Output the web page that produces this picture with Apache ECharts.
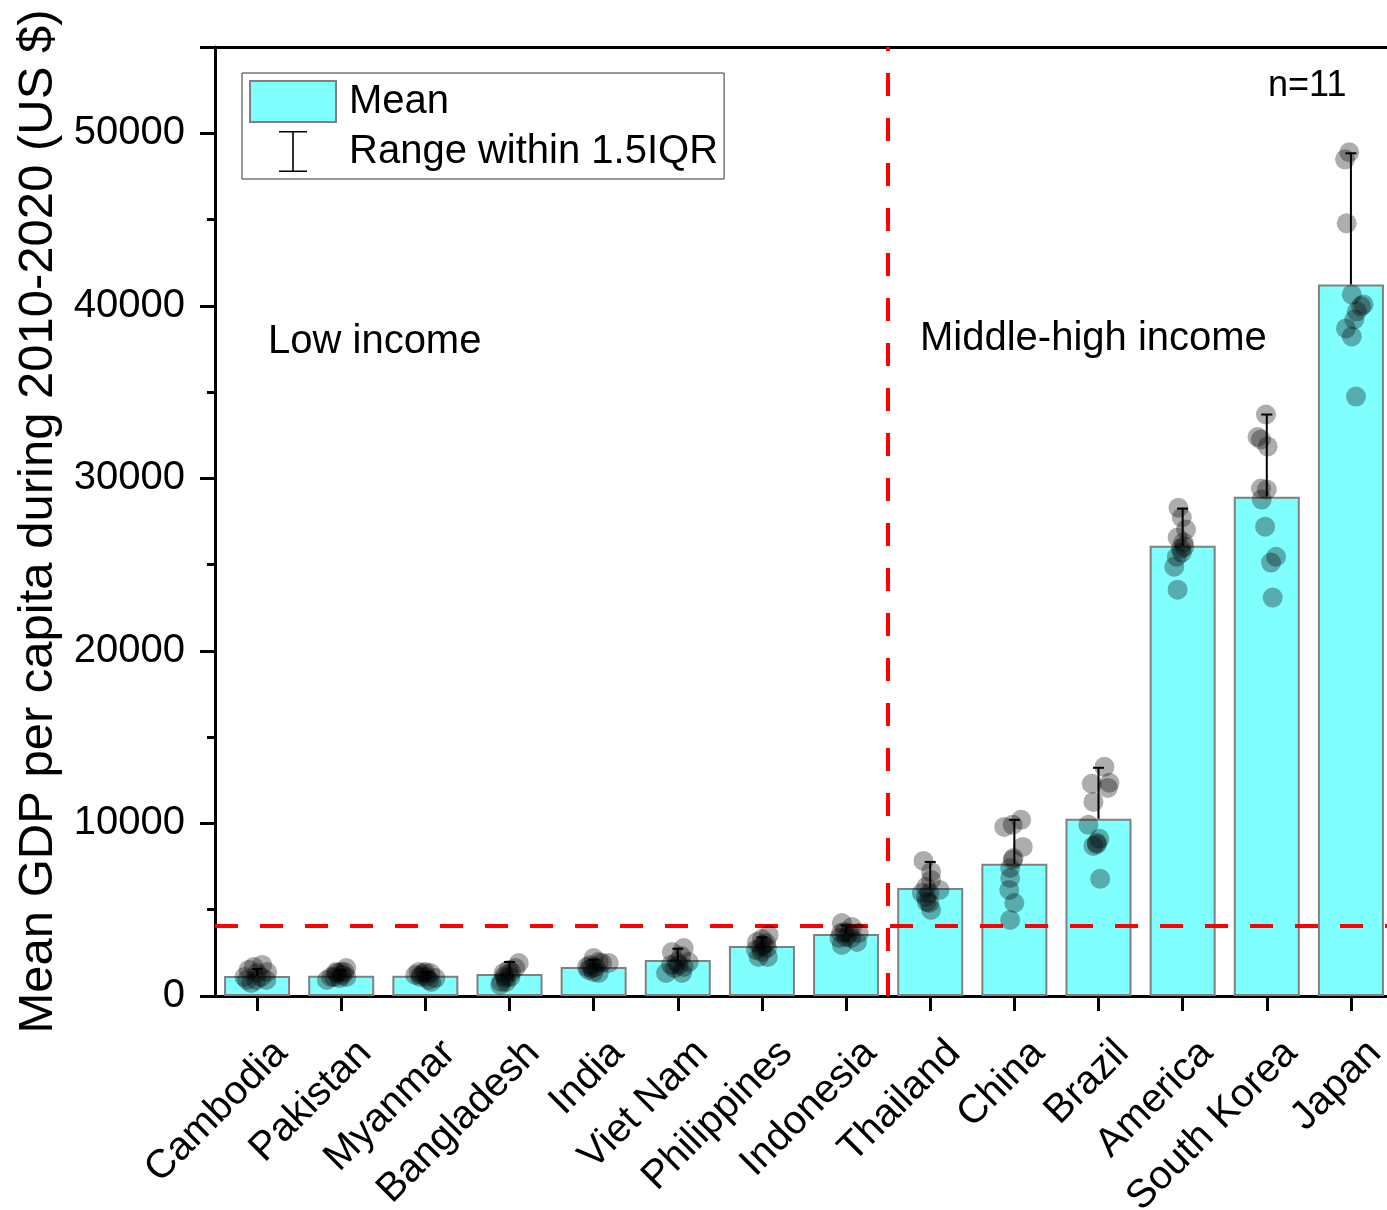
<!DOCTYPE html>
<html>
<head>
<meta charset="utf-8">
<title>Mean GDP per capita 2010-2020</title>
<script src="https://cdn.jsdelivr.net/npm/echarts@6/dist/echarts.min.js"></script>
<style>
  html, body { margin: 0; padding: 0; background: #fff; }
  #chart { width: 1387px; height: 1210px; }
</style>
</head>
<body>
<div id="chart"></div>
<script>
// Countries, ordered by mean GDP per capita
const categories = ['Cambodia', 'Pakistan', 'Myanmar', 'Bangladesh', 'India', 'Viet Nam',
  'Philippines', 'Indonesia', 'Thailand', 'China', 'Brazil', 'America', 'South Korea', 'Japan'];

// Mean GDP per capita over 2010-2020 (US $)
const meanGdp = [1160, 1180, 1180, 1270, 1680, 2090, 2900, 3600, 6260, 7660, 10270, 26100, 28940, 41240];

// Upper end of the range within 1.5 IQR (US $)
const upperRange = [1560, 1480, 1380, 1970, 2100, 2740, 3400, 4100, 7770, 10210, 13225, 28250, 33700, 48840];

// Yearly GDP per capita, 2010-2020 (11 years per country, US $)
const yearlyGdp = [
  [1800, 1680, 1510, 1390, 1330, 1100, 930, 930, 750, 1100, 930],
  [1620, 1390, 1330, 1220, 930, 1100, 1040, 1100, 1390, 1390, 1100],
  [1390, 1390, 1330, 1220, 1220, 1100, 1040, 810, 1100, 930, 1330],
  [1910, 1620, 1510, 1330, 1040, 810, 1100, 640, 810, 1390, 1160],
  [2200, 1910, 1970, 1800, 1680, 1510, 1390, 1330, 1910, 1620, 1680],
  [2780, 2550, 2320, 1970, 1970, 1800, 1680, 1330, 1330, 1620, 1800],
  [3540, 3300, 3130, 3070, 2840, 2780, 2670, 2550, 2260, 2260, 2960],
  [4230, 4000, 3710, 3650, 3650, 3650, 3420, 3130, 2960, 3360, 3360],
  [7830, 7190, 6730, 6320, 6150, 5970, 5970, 5740, 5450, 5390, 4990],
  [10210, 9800, 9920, 8640, 8000, 7420, 6840, 6150, 5390, 4410, 7890],
  [13280, 12300, 12360, 12060, 11250, 9920, 9110, 8880, 8700, 6790, 8800],
  [28300, 27730, 27030, 26570, 26280, 25930, 25700, 25460, 24880, 23550, 26040],
  [33700, 32250, 31850, 29410, 29350, 28770, 27200, 25460, 25120, 23090, 32400],
  [48900, 48490, 44780, 40660, 39970, 39680, 39210, 38690, 38220, 34740, 40080]
];

// Horizontal jitter of each yearly point, in category widths
const yearJitter = [
  [0.06, -0.04, -0.10, 0.12, 0, -0.15, 0.11, -0.01, -0.07, 0.05, -0.12],
  [0.06, 0, -0.05, 0.01, -0.17, -0.08, -0.02, 0.06, -0.06, 0.04, -0.12],
  [-0.08, 0, 0.06, -0.05, -0.12, 0.01, 0.12, 0.07, -0.06, 0.04, -0.02],
  [0.11, 0.07, -0.01, -0.07, -0.05, -0.10, 0.01, -0.11, -0.04, 0.02, -0.06],
  [0, 0.18, 0.06, -0.04, 0.02, -0.06, 0, 0.06, 0.10, -0.02, -0.08],
  [0.07, -0.07, 0.04, 0.13, -0.01, -0.08, 0.07, -0.14, 0.05, -0.04, 0.01],
  [0.08, 0, -0.06, 0.05, -0.01, 0.06, -0.07, 0, -0.04, 0.07, 0.02],
  [-0.05, 0.07, -0.02, -0.06, 0.04, 0.15, 0, 0.13, -0.05, 0.06, -0.08],
  [-0.08, 0.01, 0.01, -0.05, 0.11, -0.10, -0.01, -0.05, -0.04, -0.01, 0.01],
  [0.08, -0.12, -0.02, 0.10, -0.01, -0.05, -0.05, -0.06, 0, -0.05, -0.02],
  [0.07, -0.08, 0.13, 0.11, -0.06, -0.12, 0.01, -0.02, -0.06, 0.02, -0.02],
  [-0.05, -0.01, 0.04, -0.06, 0.01, -0.02, -0.01, -0.07, -0.10, -0.06, 0.02],
  [-0.01, -0.07, 0.01, -0.07, 0, -0.06, -0.02, 0.11, 0.05, 0.07, -0.11],
  [-0.02, -0.07, -0.05, 0.01, 0.12, 0.07, 0.04, -0.06, 0.01, 0.06, 0.15]
];

// Income threshold (US $) and the first middle-high income country
const incomeThreshold = 4045;
const firstMiddleHigh = 'Thailand';

const yTickLabels = ['0', '10000', '20000', '30000', '40000', '50000'];

const FONT = '"Liberation Sans", Arial, Helvetica, sans-serif';

const pointData = [];
yearlyGdp.forEach((vals, i) => {
  vals.forEach((v, k) => pointData.push([i + yearJitter[i][k], v]));
});
const rangeData = categories.map((c, i) => [i, meanGdp[i], upperRange[i]]);
const dividerX = categories.indexOf(firstMiddleHigh) - 0.5;

// I-beam legend glyph, padded to the full legend item box
const iBeamIcon = 'path://M0 0 M86 41 M29 0 H57 V1.6 H43.8 V39.4 H57 V41 H29 V39.4 H42.2 V1.6 H29 Z';

const chart = echarts.init(document.getElementById('chart'), null, { renderer: 'canvas' });

chart.setOption({
  animation: false,
  backgroundColor: '#fff',
  textStyle: { fontFamily: FONT, color: '#000' },
  grid: {
    left: 215, top: 47, width: 1178, height: 949,
    containLabel: false,
    outerBoundsMode: 'none'
  },
  legend: {
    orient: 'vertical',
    left: 242,
    top: 73,
    selectedMode: false,
    itemWidth: 86,
    itemHeight: 41,
    itemGap: 8,
    padding: [7, 6, 7, 7],
    borderColor: '#333',
    borderWidth: 1,
    textStyle: { fontFamily: FONT, fontSize: 40, color: '#000', padding: [0, 0, 0, 8] },
    data: [
      { name: 'Mean', icon: 'rect' },
      { name: 'Range within 1.5IQR', icon: iBeamIcon, itemStyle: { color: '#000', borderWidth: 0 } }
    ]
  },
  xAxis: [
    {
      type: 'category',
      data: categories,
      position: 'bottom',
      boundaryGap: true,
      axisLine: { show: true, onZero: false, lineStyle: { color: '#000', width: 3 } },
      axisTick: { show: true, alignWithLabel: true, length: 15, lineStyle: { color: '#000', width: 3 } },
      axisLabel: {
        interval: 0,
        rotate: 45,
        fontSize: 40,
        fontFamily: FONT,
        color: '#000',
        margin: 17,
        align: 'right',
        verticalAlign: 'top',
        padding: [21, 7, 0, 0]
      },
      splitLine: { show: false }
    },
    {
      type: 'value',
      position: 'top',
      min: -0.5,
      max: categories.length - 0.5,
      axisLine: { show: true, onZero: false, lineStyle: { color: '#000', width: 3 } },
      axisTick: { show: false },
      axisLabel: { show: false },
      splitLine: { show: false }
    }
  ],
  yAxis: [
    {
      type: 'value',
      position: 'left',
      min: 0,
      max: 55000,
      interval: 10000,
      name: 'Mean GDP per capita during 2010-2020 (US $)',
      nameLocation: 'middle',
      nameGap: 150,
      nameTextStyle: { fontSize: 49, fontFamily: FONT, color: '#000' },
      axisLine: { show: true, onZero: false, lineStyle: { color: '#000', width: 3 } },
      axisTick: { show: true, length: 15, lineStyle: { color: '#000', width: 3 } },
      axisLabel: {
        fontSize: 40,
        fontFamily: FONT,
        color: '#000',
        margin: 30,
        formatter: v => (yTickLabels.indexOf(String(v)) >= 0 ? String(v) : '')
      },
      splitLine: { show: false }
    },
    {
      type: 'value',
      position: 'left',
      min: 0,
      max: 55000,
      interval: 5000,
      axisLine: { show: false, onZero: false },
      axisTick: { show: true, length: 8, lineStyle: { color: '#000', width: 3 } },
      axisLabel: { show: false },
      splitLine: { show: false }
    }
  ],
  series: [
    {
      name: 'Mean',
      type: 'bar',
      xAxisIndex: 0,
      yAxisIndex: 0,
      data: meanGdp,
      barWidth: 66,
      z: 2,
      itemStyle: { color: '#80FFFF', borderColor: '#808080', borderWidth: 2 }
    },
    {
      name: 'Range within 1.5IQR',
      type: 'custom',
      xAxisIndex: 1,
      yAxisIndex: 0,
      z: 4,
      data: rangeData,
      encode: { x: 0, y: [1, 2] },
      itemStyle: { color: '#000' },
      renderItem: function (params, api) {
        const x = api.value(0);
        const base = api.coord([x, api.value(1)]);
        const top = api.coord([x, api.value(2)]);
        const lineStyle = { stroke: '#000', lineWidth: 2 };
        return {
          type: 'group',
          children: [
            { type: 'line', shape: { x1: base[0], y1: base[1], x2: top[0], y2: top[1] }, style: lineStyle },
            { type: 'line', shape: { x1: top[0] - 5.5, y1: top[1], x2: top[0] + 5.5, y2: top[1] }, style: lineStyle }
          ]
        };
      },
      markLine: {
        silent: true,
        symbol: 'none',
        label: { show: false },
        lineStyle: { color: '#FF0000', width: 4, type: [23, 22] },
        data: [{ yAxis: incomeThreshold }, { xAxis: dividerX }]
      }
    },
    {
      name: 'Yearly GDP per capita',
      type: 'scatter',
      xAxisIndex: 1,
      yAxisIndex: 0,
      z: 5,
      data: pointData,
      symbol: 'circle',
      symbolSize: 20,
      itemStyle: { color: 'rgba(0,0,0,0.4)', borderWidth: 0 }
    }
  ],
  graphic: [
    { type: 'text', left: 268, top: 322, style: { text: 'Low income', font: '40px ' + FONT, fill: '#000' } },
    { type: 'text', left: 920, top: 319, style: { text: 'Middle-high income', font: '40px ' + FONT, fill: '#000' } },
    { type: 'text', left: 1268, top: 68, style: { text: 'n=11', font: '36px ' + FONT, fill: '#000' } }
  ]
});
</script>
</body>
</html>
